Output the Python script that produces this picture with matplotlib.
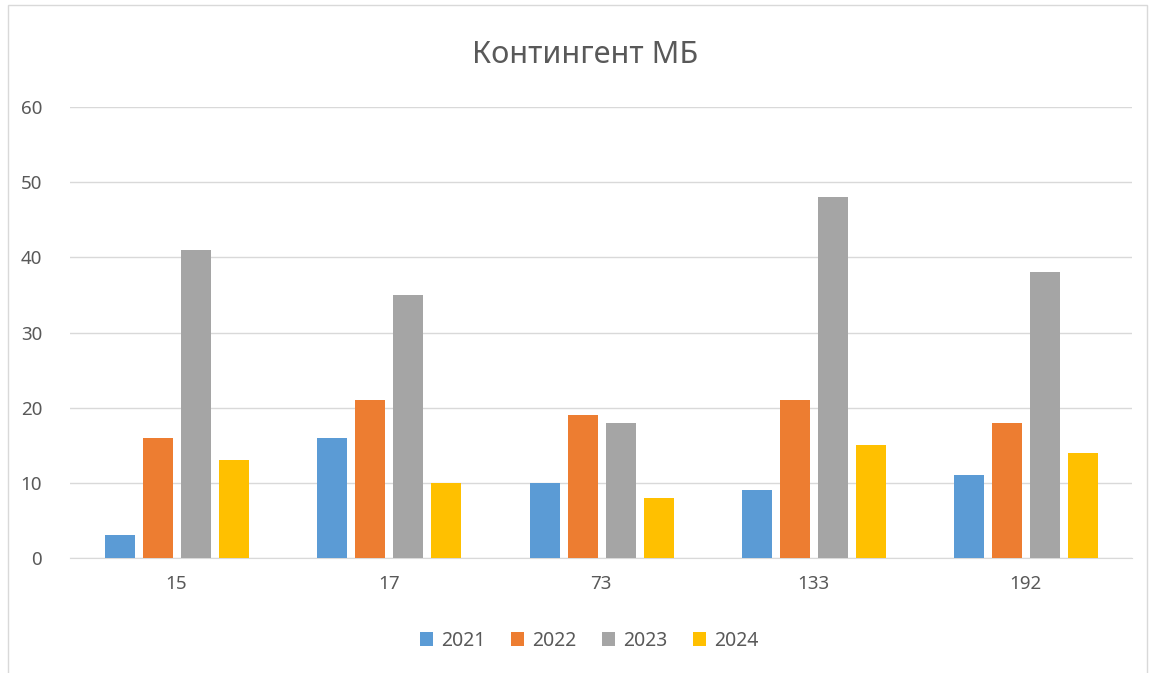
import matplotlib
matplotlib.use("Agg")
import matplotlib.pyplot as plt
import numpy as np
from matplotlib.patches import Rectangle

categories = ["15", "17", "73", "133", "192"]
series_names = ["2021", "2022", "2023", "2024"]
v2021 = [3, 16, 10, 9, 11]
v2022 = [16, 21, 19, 21, 18]
v2023 = [41, 35, 18, 48, 38]
v2024 = [13, 10, 8, 15, 14]
yticks = [0, 10, 20, 30, 40, 50, 60]

colors = ["#5B9BD5", "#ED7D31", "#A5A5A5", "#FFC000"]
plt.rcParams['font.family'] = ['Noto Sans', 'DejaVu Sans']

W, H = 1157, 673
fig = plt.figure(figsize=(W/100, H/100), dpi=100)
fig.patches.append(Rectangle((8/W, -0.01), (1147-8)/W, (673-5)/H + 0.01, transform=fig.transFigure,
                             fill=False, edgecolor="#D9D9D9", linewidth=1))
ax = fig.add_axes([70/W, 1-558/H, (1132-70)/W, (558-107)/H])

x = np.arange(len(categories))
bw = 0.141
step = 0.179
for i, (vals, c, name) in enumerate(zip([v2021, v2022, v2023, v2024], colors, series_names)):
    ax.bar(x + (i - 1.5) * step + 0.003, vals, width=bw, color=c, label=name, zorder=3)

ax.set_xlim(-0.5, len(categories) - 0.5)
ax.set_ylim(0, 60)
ax.set_yticks(yticks)
ax.set_xticks(x)
ax.set_xticklabels(categories)
ax.grid(axis='y', color="#D9D9D9", linewidth=1, zorder=0)
for s in ['top', 'right', 'left']:
    ax.spines[s].set_visible(False)
ax.spines['bottom'].set_color("#D9D9D9")
ax.tick_params(axis='both', length=0, labelsize=13.5, colors="#595959")
ax.tick_params(axis='y', pad=20)
ax.tick_params(axis='x', pad=12)

fig.text(585/W, 1-55/H, "Контингент МБ", ha='center', va='center', fontsize=22, color="#595959")
fig.legend(loc='center', bbox_to_anchor=(589/W, 1-641/H), ncol=4, frameon=False,
           fontsize=14, handlelength=0.7, handleheight=0.7, handletextpad=0.4, columnspacing=1.3,
           labelcolor="#595959")

fig.savefig("out.png", dpi=100)
